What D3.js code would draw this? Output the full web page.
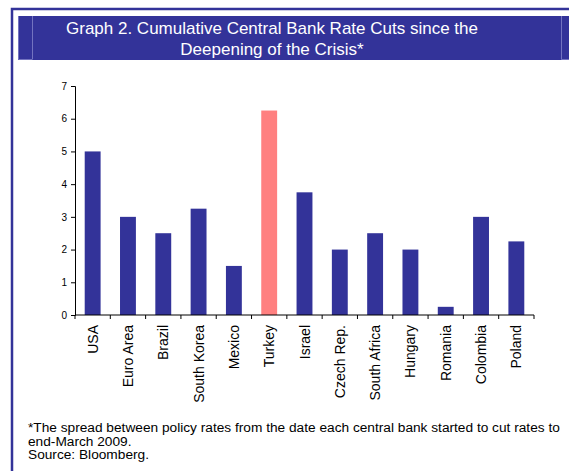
<!DOCTYPE html>
<html>
<head>
<meta charset="utf-8">
<script src="https://cdn.jsdelivr.net/npm/d3@7"></script>
<style>
  body { margin: 0; background: #fff; }
  svg { display: block; font-family: "Liberation Sans", Arial, sans-serif; }
</style>
</head>
<body>
<div id="chart"></div>
<script>
const countries = ["USA", "Euro Area", "Brazil", "South Korea", "Mexico", "Turkey", "Israel",
  "Czech Rep.", "South Africa", "Hungary", "Romania", "Colombia", "Poland"];
const cuts = [5, 3, 2.5, 3.25, 1.5, 6.25, 3.75, 2, 2.5, 2, 0.25, 3, 2.25];
const highlight = ["Turkey"];
const yTicks = [0, 1, 2, 3, 4, 5, 6, 7];
const titleLines = ["Graph 2. Cumulative Central Bank Rate Cuts since the", "Deepening of the Crisis*"];
const noteLines = ["*The spread between policy rates from the date each central bank started to cut rates to",
  "end-March 2009.", "Source: Bloomberg."];

const width = 569, height = 471;
const navy = "#333399";

const svg = d3.select("#chart").append("svg")
  .attr("width", width)
  .attr("height", height);

// frame
svg.append("path")
  .attr("d", `M12,${height} V9 H${width}`)
  .attr("fill", "none")
  .attr("stroke", navy)
  .attr("stroke-width", 2.5);

// title band
svg.append("rect")
  .attr("x", 18).attr("y", 16)
  .attr("width", width - 18).attr("height", 44)
  .attr("fill", navy);
svg.append("path")
  .attr("d", "M18.5,16 V59.5 H32 M32.5,16 V59.5 M561.5,16 V59.5 H569")
  .attr("fill", "none")
  .attr("stroke", "#8f8fd0")
  .attr("stroke-width", 1)
  .attr("opacity", 0.7);

svg.append("g").selectAll("text")
  .data(titleLines)
  .enter()
  .append("text")
  .attr("x", 272)
  .attr("y", (d, i) => 34 + i * 21)
  .attr("text-anchor", "middle")
  .attr("fill", "#fff")
  .attr("font-size", 17)
  .text(d => d);

// plot
const x = d3.scaleBand()
  .domain(countries)
  .range([75, 534])
  .paddingInner(0.55)
  .paddingOuter(0.275);

const y = d3.scaleLinear()
  .domain([0, 7])
  .range([315, 86]);

svg.append("g").selectAll("rect")
  .data(countries)
  .enter()
  .append("rect")
  .attr("x", d => x(d))
  .attr("width", x.bandwidth())
  .attr("y", (d, i) => y(cuts[i]))
  .attr("height", (d, i) => y(0) - y(cuts[i]))
  .attr("fill", d => highlight.includes(d) ? "#ff8080" : navy);

// y axis
const yAxis = svg.append("g")
  .attr("transform", "translate(75,0)")
  .call(d3.axisLeft(y).tickValues(yTicks).tickSize(4).tickPadding(4).tickFormat(d3.format("d")));
yAxis.select(".domain").attr("stroke", "#000");
yAxis.selectAll("text").attr("font-size", 10).attr("fill", "#000").attr("font-family", "Liberation Sans, Arial, sans-serif");

// x axis with ticks between categories
const xAxis = svg.append("g")
  .attr("transform", "translate(0,315)");
xAxis.append("line")
  .attr("x1", 75).attr("x2", 534)
  .attr("stroke", "#000");
const step = x.step();
xAxis.selectAll("line.tk")
  .data(d3.range(countries.length + 1))
  .enter()
  .append("line")
  .attr("class", "tk")
  .attr("x1", i => 75 + i * step)
  .attr("x2", i => 75 + i * step)
  .attr("y1", 0).attr("y2", 4)
  .attr("stroke", "#000");
xAxis.selectAll("text")
  .data(countries)
  .enter()
  .append("text")
  .attr("transform", d => `translate(${x(d) + x.bandwidth() / 2 + 5},10) rotate(-90)`)
  .attr("text-anchor", "end")
  .attr("font-size", 14)
  .attr("fill", "#000")
  .text(d => d);

// footnote
svg.append("g").selectAll("text")
  .data(noteLines)
  .enter()
  .append("text")
  .attr("x", 28)
  .attr("y", (d, i) => 432 + i * 13.5)
  .attr("font-size", 13.7)
  .attr("font-family", "'Liberation Sans Narrow', 'Arial Narrow', sans-serif")
  .attr("fill", "#000")
  .text(d => d);
</script>
</body>
</html>
